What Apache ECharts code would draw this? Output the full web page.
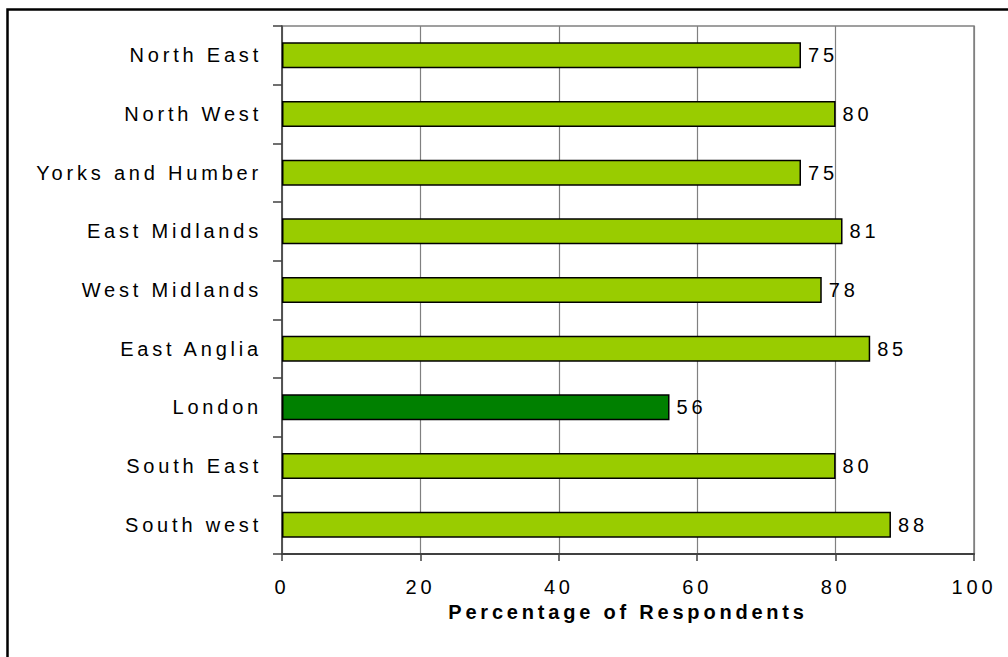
<!DOCTYPE html>
<html>
<head>
<meta charset="utf-8">
<script src="https://cdn.jsdelivr.net/npm/echarts@6/dist/echarts.min.js"></script>
<style>
html,body{margin:0;padding:0;background:#fff;}
#chart{width:1008px;height:657px;}
#chart text{letter-spacing:3.8px;}
</style>
</head>
<body>
<div id="chart"></div>
<script>
const categories = ["North East","North West","Yorks and Humber","East Midlands","West Midlands","East Anglia","London","South East","South west"];
const values = [75, 80, 75, 81, 78, 85, 56, 80, 88];
const highlight = "London";
const axisTitle = "Percentage of Respondents";

const chart = echarts.init(document.getElementById('chart'), null, {renderer:'svg'});
const font = "'Liberation Sans', Arial, sans-serif";
chart.setOption({
  animation:false,
  backgroundColor:'#fff',
  grid:{left:282,right:34,top:26,bottom:103,show:true,borderColor:'#808080',borderWidth:1.5},
  graphic:[{type:'rect',shape:{x:7.5,y:9.5,width:1100,height:1000},style:{fill:null,stroke:'#000',lineWidth:2.5},z:100}],
  xAxis:{type:'value',min:0,max:100,interval:20,
    axisLine:{show:true,lineStyle:{color:'#404040',width:2}},
    axisTick:{show:true,length:7,lineStyle:{color:'#404040',width:1.5}},
    axisLabel:{fontFamily:font,fontSize:20,color:'#000',margin:23},
    splitLine:{show:true,lineStyle:{color:'#808080',width:1.2}},
    name:axisTitle,nameLocation:'middle',nameGap:47,
    nameTextStyle:{fontFamily:font,fontSize:20,fontWeight:'bold',color:'#000'}
  },
  yAxis:{type:'category',data:categories,inverse:true,
    axisLine:{show:true,lineStyle:{color:'#404040',width:1.5}},
    axisTick:{show:true,length:9,lineStyle:{color:'#404040',width:1.5}},
    axisLabel:{fontFamily:font,fontSize:20,color:'#000',margin:20},
    splitLine:{show:false}
  },
  series:[{type:'bar',barWidth:26,
    data:values.map((v,i)=>({value:v,itemStyle:{color:categories[i]===highlight?'#008000':'#99CC00'}})),
    itemStyle:{borderColor:'#000',borderWidth:1.5},
    label:{show:true,position:'right',distance:7,fontFamily:font,fontSize:20,color:'#000'}
  }]
});
</script>
</body>
</html>
